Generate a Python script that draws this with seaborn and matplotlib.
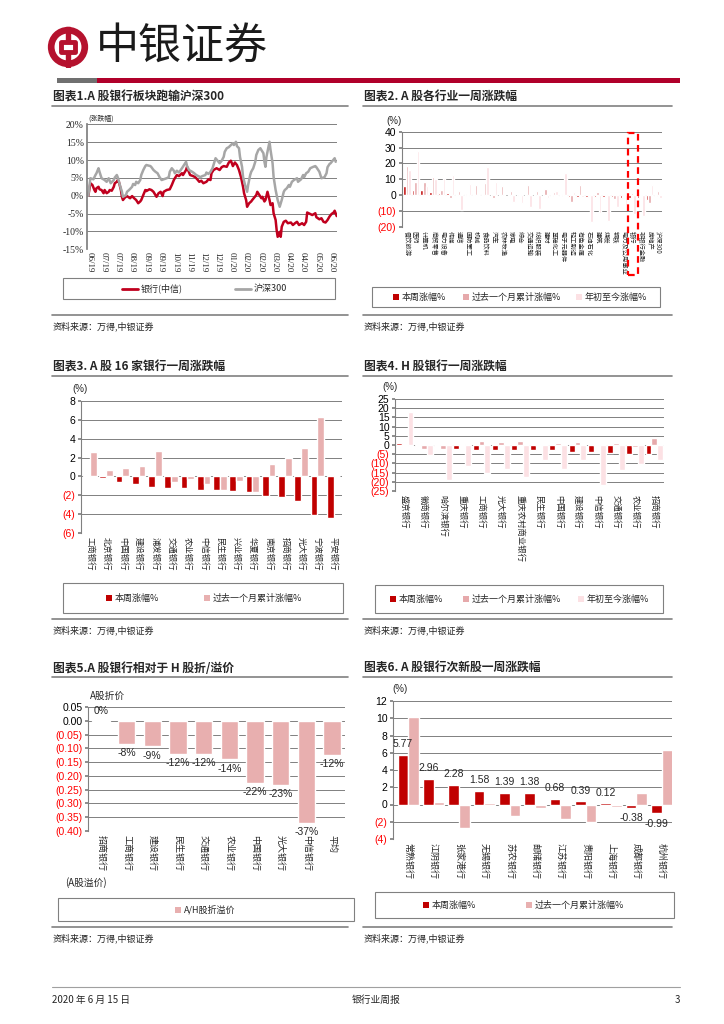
import matplotlib
matplotlib.use("Agg")
import matplotlib.pyplot as plt
from matplotlib.patches import Rectangle, Circle
from matplotlib.lines import Line2D
import seaborn as sns
import pandas as pd
import numpy as np

# ---------------- data ----------------
# chart 1: cumulative change since 2019-06 (trading-day index, %)
hs300_day = [0, 2, 5, 7, 8, 10, 11, 13, 16, 18,
             20, 22, 25, 26, 28, 29, 31, 33, 34, 37,
             38, 40, 43, 44, 46, 47, 49, 51, 52, 54,
             56, 57, 61, 62, 64, 66, 68, 70, 72, 74,
             77, 79, 80, 82, 84, 85, 87, 89, 92, 94,
             96, 97, 99, 102, 104, 106, 108, 110, 112, 115,
             116, 118, 120, 122, 124, 125, 127, 129, 131, 133,
             134, 136, 138, 139, 142, 143, 145, 146, 148, 149,
             151, 152, 154, 156, 157, 159, 160, 162, 164, 165,
             167, 169, 170, 172, 173, 174, 175, 177, 178, 179,
             181, 182, 184, 186, 188, 190, 192, 193, 195, 197,
             198, 200, 202, 205, 206, 209, 211, 212, 214, 216,
             218, 221, 223, 224, 227, 229, 232, 234, 235, 237,
             238, 240, 242, 243]
hs300_pct = [0.0, 4.9, 4.6, 5.8, 6.3, 7.7, 6.7, 4.9, 4.4, 3.9,
             4.9, 3.5, 4.4, 5.1, 5.8, 5.1, 3.0, 1.1, -0.3, 0.2,
             1.1, 1.6, 2.5, 3.3, 3.0, 3.9, 3.5, 4.4, 5.8, 7.2,
             8.3, 8.6, 8.3, 8.0, 7.2, 6.7, 6.3, 5.2, 4.4, 4.6,
             4.9, 5.2, 6.7, 7.7, 7.0, 6.3, 7.0, 6.5, 7.7, 8.6,
             9.5, 8.3, 7.2, 6.7, 6.3, 5.8, 5.5, 5.2, 5.5, 5.8,
             6.5, 6.1, 6.7, 7.7, 9.5, 10.5, 9.8, 9.1, 9.8, 10.9,
             12.3, 13.3, 13.6, 13.9, 14.7, 14.2, 15.1, 13.9, 13.3, 10.9,
             8.1, 5.3, 3.0, 1.1, 3.0, 5.8, 6.7, 7.7, 9.5, 11.4,
             12.8, 13.3, 12.8, 11.9, 9.5, 8.1, 10.9, 13.7, 15.1, 12.8,
             9.1, 5.3, 1.6, -1.2, -3.1, -1.2, 1.1, 1.6, 2.1, 3.0,
             2.5, 3.9, 4.4, 4.9, 3.9, 4.6, 5.8, 5.2, 6.3, 6.7,
             7.7, 8.1, 8.3, 8.0, 6.7, 4.9, 5.2, 6.3, 8.0, 8.9,
             9.1, 9.8, 10.5, 9.5]
bank_day = [0, 2, 4, 6, 7, 8, 10, 11, 13, 15,
            16, 18, 20, 21, 23, 25, 26, 28, 29, 30,
            32, 33, 34, 36, 38, 41, 43, 45, 47, 49,
            51, 52, 54, 56, 57, 60, 62, 64, 66, 67,
            69, 71, 73, 74, 77, 80, 82, 84, 85, 87,
            89, 92, 93, 96, 97, 98, 100, 103, 105, 107,
            109, 111, 113, 116, 118, 120, 121, 123, 126, 129,
            131, 133, 136, 138, 140, 141, 142, 144, 146, 148,
            150, 152, 153, 155, 156, 158, 160, 161, 163, 165,
            166, 168, 170, 171, 173, 174, 176, 178, 179, 181,
            182, 184, 185, 186, 188, 189, 190, 192, 194, 196,
            199, 201, 203, 205, 207, 210, 212, 214, 215, 218,
            220, 223, 224, 227, 229, 231, 233, 235, 237, 239,
            241, 242, 244]
bank_pct = [0.0, 3.5, 3.0, 1.6, 1.1, 2.1, 2.5, 1.8, 1.6, 0.7,
            1.6, 0.7, 1.1, 1.6, 1.4, 2.5, 3.5, 3.9, 4.4, 3.9,
            1.6, -0.3, -1.2, -0.5, -0.1, -0.7, -0.1, -0.7, -1.2, -2.1,
            -1.6, -1.2, 0.2, 1.6, 1.3, 1.8, 1.6, 1.1, 0.2, -0.3,
            0.7, 1.1, -0.1, 1.1, 1.6, 1.8, 3.0, 4.4, 4.9, 5.8,
            5.5, 6.3, 5.8, 7.2, 8.1, 7.2, 5.8, 5.5, 5.2, 4.6,
            3.9, 4.2, 3.5, 3.9, 4.6, 4.4, 6.3, 7.2, 7.7, 7.2,
            8.0, 8.3, 8.1, 9.3, 9.8, 9.1, 8.3, 9.3, 8.6, 7.2,
            5.2, 2.5, 0.7, -1.2, -3.1, -2.1, -1.6, -1.2, -0.5, 0.2,
            1.1, 0.2, -0.7, -0.3, -1.6, -1.2, 1.1, -1.2, -2.6, -2.1,
            -4.9, -6.8, -9.6, -11.5, -10.1, -11.5, -8.7, -7.3, -7.0, -7.7,
            -7.5, -8.2, -7.7, -7.3, -8.2, -7.7, -8.2, -7.3, -4.7, -5.1,
            -5.4, -4.9, -6.0, -6.6, -6.3, -7.3, -7.5, -6.8, -5.8, -5.1,
            -4.7, -4.2, -5.7]
date_ticks = ["06/19", "07/19", "07/19", "08/19", "09/19", "09/19", "10/19",
              "11/19", "12/19", "12/19", "01/20", "02/20", "02/20", "03/20",
              "04/20", "04/20", "05/20", "06/20"]

# chart 2: CITIC industries
industries = ["餐饮旅游", "医药", "计算机", "商贸零售", "电力设备", "传媒", "通信",
              "国防军工", "机械", "食品饮料", "汽车", "农林牧渔", "家电", "综合",
              "交通运输", "纺织服装", "建材", "基础化工", "电子元器件", "轻工制造",
              "有色金属", "石油石化", "建筑", "煤炭", "钢铁", "电力及公用事业",
              "银行", "非银行金融", "房地产", "沪深300"]
ind_week = [5.6, 3.3, 3.1, 1.9, 1.5, 1.2, 0.8, 0.8, 0.6, 0.5,
            0.2, 0.2, 0.1, 0.05, 0.0, -0.05, -0.1, -0.3, -0.5, -0.8,
            -0.8, -1.0, -1.0, -1.2, -1.3, -1.5, -1.5, -1.7, -3.0, -0.3]
ind_month = [18.5, 8.5, 8.5, 11.2, 3.3, -1.5, 2.7, -0.3, 6.5, 7.9,
             -2.0, 5.8, 2.7, -0.2, 6.5, 2.7, 3.7, 1.8, 0.8, -4.5,
             6.5, -0.5, 2.0, 0.8, -2.5, 0.3, 1.5, -0.5, -5.0, 2.5]
ind_ytd = [15.8, 28.0, 6.0, 10.5, 10.6, 12.7, -9.0, 6.9, 0.5, 18.0,
           8.1, 0.0, -4.5, -4.7, -7.5, -8.5, -1.5, 2.5, 14.0, 2.0,
           -1.0, -17.0, -11.0, -16.0, -7.5, -6.0, -12.0, -13.0, 6.5, -1.5]

# chart 3: 16 A-share banks
a_banks = ["工商银行", "北京银行", "中国银行", "建设银行", "浦发银行", "交通银行",
           "农业银行", "中信银行", "民生银行", "兴业银行", "华夏银行", "南京银行",
           "招商银行", "光大银行", "宁波银行", "平安银行"]
a_week = [0.2, -0.2, -0.6, -0.8, -1.1, -1.2, -1.2, -1.4, -1.4, -1.5, -1.6,
          -2.1, -2.15, -2.65, -4.1, -4.4]
a_month = [2.6, 0.65, 0.9, 1.15, 2.7, -0.6, -0.3, -0.8, -1.4, -0.5, -1.7,
           1.35, 1.95, 3.05, 6.3, 0.0]

# chart 4: H-share banks
h_banks = ["盛京银行", "徽商银行", "哈尔滨银行", "重庆银行", "工商银行", "光大银行",
           "重庆农村商业银行", "民生银行", "中国银行", "建设银行", "中信银行",
           "交通银行", "农业银行", "招商银行"]
h_week = [0.9, -0.3, -0.3, -2.0, -2.5, -2.7, -2.7, -2.7, -2.9, -3.6, -4.0,
          -4.3, -5.0, -5.0]
h_month = [0.3, -2.2, -2.0, 0.3, 2.0, 1.8, 2.2, -0.5, 0.9, 1.6, -0.5, 0.9,
           -1.0, 3.6]
h_ytd = [18.1, -5.6, -19.0, -11.4, -15.0, -13.0, -17.6, -8.2, -13.0, -8.2,
         -21.9, -13.6, -10.5, -8.2]

# chart 5: A/H premium
ah_banks = ["招商银行", "工商银行", "建设银行", "民生银行", "交通银行", "农业银行",
            "中国银行", "光大银行", "中信银行", "平均"]
ah_prem = [0.003, -0.084, -0.093, -0.12, -0.12, -0.14, -0.224, -0.234, -0.372, -0.124]

# chart 6: newly listed banks
new_banks = ["常熟银行", "江阴银行", "张家港行", "无锡银行", "苏农银行", "邮储银行",
             "江苏银行", "贵阳银行", "上海银行", "成都银行", "杭州银行"]
new_week = [5.77, 2.96, 2.28, 1.58, 1.39, 1.38, 0.68, 0.39, 0.12, -0.38, -0.99]
new_month = [10.15, 0.27, -2.7, 0.2, -1.38, -0.35, -1.7, -2.0, -0.25, 1.38, 6.35]

# ---------------- style ----------------
sns.set_theme(style="white")
plt.rcParams["font.family"] = ["Noto Sans CJK SC", "DejaVu Sans"]
plt.rcParams["axes.unicode_minus"] = False

W, H = 724, 1024
RED = "#C00000"
MID = "#E6A9AB"
LIGHT = "#FCE1E4"
GRID = "#808080"
NUM = ["Liberation Sans", "Noto Sans CJK SC"]
SERIF = ["Liberation Serif", "Noto Sans CJK SC"]

fig = plt.figure(figsize=(W / 100, H / 100), dpi=100)
fig.patch.set_facecolor("white")


def rect(x0, y0, x1, y1):
    return [x0 / W, 1 - y1 / H, (x1 - x0) / W, (y1 - y0) / H]


def ftext(x, y, s, **kw):
    fig.text(x / W, 1 - y / H, s, **kw)


def hline(x0, x1, y, color=GRID, lw=1.0):
    fig.add_artist(Line2D([x0 / W, x1 / W], [1 - y / H, 1 - y / H],
                          color=color, lw=lw, transform=fig.transFigure))


def panel_frame(x0, x1, y_title, y_sep, title):
    ftext(x0 + 1, y_title, title, fontsize=8.5, fontweight="bold", va="center")
    hline(x0, x1, y_title + 9, lw=1.2)
    hline(x0, x1, y_sep, lw=1.2)
    ftext(x0 + 1, y_sep + 11, "资料来源：万得,中银证券", fontsize=6.5,
          va="center", style="italic", color="#222222")


def legend_box(x0, y0, x1, y1, items):
    fig.add_artist(Rectangle((x0 / W, 1 - y1 / H), (x1 - x0) / W, (y1 - y0) / H,
                             transform=fig.transFigure, fill=False,
                             ec=GRID, lw=0.8))
    cy = (y0 + y1) / 2
    for kind, color, mx, label in items:
        if kind == "sq":
            fig.add_artist(Rectangle((mx / W, 1 - (cy + 3) / H), 6 / W, 6 / H,
                                     transform=fig.transFigure, fc=color, ec="none"))
            tx = mx + 9
        else:
            fig.add_artist(Line2D([mx / W, (mx + 16) / W], [1 - cy / H, 1 - cy / H],
                                  color=color, lw=2, transform=fig.transFigure))
            tx = mx + 19
        ftext(tx, cy, label, fontsize=6.5, va="center")


def paren(v, nd=0):
    s = f"{abs(v):.{nd}f}"
    return f"({s})" if v < 0 else s


def style_bar_axis(ax, ticks, nd, fs_x, xlim, ylim):
    ax.set_ylim(ylim)
    ax.set_xlim(xlim)
    ax.set_yticks(ticks)
    ax.set_yticklabels([paren(t, nd) for t in ticks], fontsize=7.5, family=NUM)
    for lbl, t in zip(ax.get_yticklabels(), ticks):
        lbl.set_color("#FF0000" if t < 0 else "black")
    ax.yaxis.grid(True, color=GRID, lw=0.7)
    ax.set_axisbelow(True)
    for s in ["top", "right", "bottom"]:
        ax.spines[s].set_visible(False)
    ax.spines["left"].set_color(GRID)
    ax.spines["left"].set_linewidth(0.8)
    ax.tick_params(axis="y", length=2, pad=2, color=GRID, left=True)
    ax.tick_params(axis="x", length=0, pad=3)
    plt.setp(ax.get_xticklabels(), rotation=-90, fontsize=fs_x, va="top", ha="center")
    ax.set_xlabel("")
    ax.set_ylabel("")
    ax.set_facecolor("white")


def long_df(cats, series):
    rows = []
    for name, vals in series.items():
        for c, v in zip(cats, vals):
            rows.append({"cat": c, "series": name, "val": v})
    return pd.DataFrame(rows)


# ---------------- header ----------------
ax_logo = fig.add_axes(rect(47, 26, 89, 68))
ax_logo.set_xlim(-1, 1)
ax_logo.set_ylim(-1, 1)
ax_logo.set_aspect("equal")
ax_logo.axis("off")
ax_logo.add_patch(Circle((0, 0), 0.8, fill=False, ec="#B5122E", lw=4.8))
ax_logo.add_patch(Rectangle((-0.08, -0.95), 0.16, 1.9, color="#B5122E"))
ax_logo.add_patch(Rectangle((-0.33, -0.26), 0.66, 0.52, fc="white", ec="#B5122E",
                            lw=3.5, joinstyle="round"))
ftext(96, 47, "中银证券", fontsize=31, va="center", color="#1a1a1a")
fig.add_artist(Rectangle((57 / W, 1 - 83 / H), 40 / W, 5 / H, transform=fig.transFigure,
                         fc="#707070", ec="none"))
fig.add_artist(Rectangle((97 / W, 1 - 83 / H), 583 / W, 5 / H, transform=fig.transFigure,
                         fc="#B0002A", ec="none"))

# ---------------- chart 1 ----------------
panel_frame(52, 348, 97, 315, "图表1.A 股银行板块跑输沪深300")
ax1 = fig.add_axes(rect(86.7, 124.3, 336.7, 249.3))
df1 = pd.concat([
    pd.DataFrame({"day": bank_day, "pct": bank_pct, "series": "银行(中信)"}),
    pd.DataFrame({"day": hs300_day, "pct": hs300_pct, "series": "沪深300"}),
])
sns.lineplot(data=df1, x="day", y="pct", hue="series", palette=["#C0001E", "#A6A6A6"],
             hue_order=["银行(中信)", "沪深300"], lw=1.8, legend=False,
             estimator=None, sort=False, ax=ax1)
ax1.set_xlim(-1.6, 244)
ax1.set_ylim(-15, 20)
yt1 = np.arange(-15, 21, 5)
ax1.set_yticks(yt1)
ax1.set_yticklabels([f"{t}%" for t in yt1], fontsize=7, family=SERIF)
ax1.set_xticks(np.arange(1, 245, 14))
ax1.set_xticklabels(date_ticks, rotation=-90, fontsize=6.5, family=SERIF, va="top")
ax1.yaxis.grid(True, color=GRID, lw=0.7)
ax1.set_axisbelow(True)
for s in ["top", "right", "bottom"]:
    ax1.spines[s].set_visible(False)
ax1.spines["left"].set_color(GRID)
ax1.tick_params(axis="both", length=0, pad=2)
ax1.set_xlabel("")
ax1.set_ylabel("")
ftext(88, 119, "(涨跌幅)", fontsize=5, va="center")
legend_box(63, 278, 335, 299, [("ln", "#C0001E", 122, "银行(中信)"),
                               ("ln", "#A6A6A6", 235, "沪深300")])

# ---------------- chart 2 ----------------
panel_frame(363, 672, 97, 315, "图表2. A 股各行业一周涨跌幅")
ax2 = fig.add_axes(rect(401.7, 131.7, 662, 227))
df2 = long_df(industries, {"本周涨幅%": ind_week, "过去一个月累计涨幅%": ind_month,
                           "年初至今涨幅%": ind_ytd})
sns.barplot(data=df2, x="cat", y="val", hue="series", palette=[RED, MID, LIGHT],
            width=0.9, saturation=1, errorbar=None, legend=False, ax=ax2)
style_bar_axis(ax2, [-20, -10, 0, 10, 20, 30, 40], 0, 4.5, (-0.6, 29.45), (-20, 40))
bank_i = industries.index("银行")
ax2.add_patch(Rectangle((bank_i - 0.5, -0.5), 1.15, 1.49,
                        transform=ax2.get_xaxis_transform(), fill=False,
                        ec="#FF0000", lw=1.6, ls=(0, (3, 2)), clip_on=False))
ftext(386, 121, "(%)", fontsize=7, va="center", family=NUM)
legend_box(372, 287, 660, 307, [("sq", RED, 393, "本周涨幅%"),
                                ("sq", MID, 463, "过去一个月累计涨幅%"),
                                ("sq", LIGHT, 576, "年初至今涨幅%")])

# ---------------- chart 3 ----------------
panel_frame(52, 348, 367, 619, "图表3. A 股 16 家银行一周涨跌幅")
ax3 = fig.add_axes(rect(80.7, 401, 341.7, 533))
df3 = long_df(a_banks, {"本周涨幅%": a_week, "过去一个月累计涨幅%": a_month})
sns.barplot(data=df3, x="cat", y="val", hue="series", palette=[RED, "#E8B0B0"],
            width=0.83, saturation=1, errorbar=None, legend=False, ax=ax3)
style_bar_axis(ax3, [-6, -4, -2, 0, 2, 4, 6, 8], 0, 6, (-0.57, 15.5), (-6, 8))
ftext(72, 389, "(%)", fontsize=7, va="center", family=NUM)
legend_box(63, 583, 343, 613, [("sq", RED, 106, "本周涨幅%"),
                               ("sq", "#E8B0B0", 204, "过去一个月累计涨幅%")])

# ---------------- chart 4 ----------------
panel_frame(363, 672, 367, 619, "图表4. H 股银行一周涨跌幅")
ax4 = fig.add_axes(rect(395, 399, 664, 491))
df4 = long_df(h_banks, {"本周涨幅%": h_week, "过去一个月累计涨幅%": h_month,
                        "年初至今涨幅%": h_ytd})
sns.barplot(data=df4, x="cat", y="val", hue="series", palette=[RED, MID, LIGHT],
            width=0.92, saturation=1, errorbar=None, legend=False, ax=ax4)
style_bar_axis(ax4, list(range(-25, 26, 5)), 0, 6, (-0.5, 13.5), (-25, 25))
ftext(382, 387, "(%)", fontsize=7, va="center", family=NUM)
legend_box(375, 585, 663, 613, [("sq", RED, 390, "本周涨幅%"),
                                ("sq", MID, 463, "过去一个月累计涨幅%"),
                                ("sq", LIGHT, 578, "年初至今涨幅%")])

# ---------------- chart 5 ----------------
panel_frame(52, 348, 668, 927, "图表5.A 股银行相对于 H 股折/溢价")
ax5 = fig.add_axes(rect(88, 707, 345, 831))
df5 = pd.DataFrame({"cat": ah_banks, "val": ah_prem})
sns.barplot(data=df5, x="cat", y="val", color="#E8AFAF", width=0.68, saturation=1,
            errorbar=None, ax=ax5)
style_bar_axis(ax5, [-0.40, -0.35, -0.30, -0.25, -0.20, -0.15, -0.10, -0.05, 0.0, 0.05],
               2, 6.5, (-0.5, 9.5), (-0.40, 0.05))
ax5.bar_label(ax5.containers[0], labels=[f"{round(v * 100):.0f}%" for v in ah_prem],
              padding=3, fontsize=7.5, family=NUM)
ftext(90, 696, "A股折价", fontsize=7, va="center")
ftext(65, 883, "(A股溢价)", fontsize=7, va="center")
legend_box(58, 898, 354, 921, [("sq", "#E8AFAF", 175, "A/H股折溢价")])

# ---------------- chart 6 ----------------
panel_frame(363, 672, 668, 927, "图表6. A 股银行次新股一周涨跌幅")
ax6 = fig.add_axes(rect(393, 701, 672, 839))
df6 = long_df(new_banks, {"本周涨幅%": new_week, "过去一个月累计涨幅%": new_month})
sns.barplot(data=df6, x="cat", y="val", hue="series", palette=[RED, "#E8B0B0"],
            width=0.84, saturation=1, errorbar=None, legend=False, ax=ax6)
style_bar_axis(ax6, [-4, -2, 0, 2, 4, 6, 8, 10, 12], 0, 6.5, (-0.6, 10.4), (-4, 12))
ax6.bar_label(ax6.containers[0], labels=[f"{v:.2f}" for v in new_week],
              padding=4, fontsize=7.5, family=NUM)
ftext(392, 689, "(%)", fontsize=7, va="center", family=NUM)
legend_box(375, 892, 674, 918, [("sq", RED, 423, "本周涨幅%"),
                                ("sq", "#E8B0B0", 526, "过去一个月累计涨幅%")])

# ---------------- footer ----------------
hline(52, 680, 987, color="#A0A0A0", lw=0.8)
ftext(52, 1000, "2020 年 6 月 15 日", fontsize=7, va="center")
ftext(376, 1000, "银行业周报", fontsize=7, va="center", ha="center")
ftext(680, 1000, "3", fontsize=7, va="center", ha="right")

fig.savefig("out.png", dpi=100)
